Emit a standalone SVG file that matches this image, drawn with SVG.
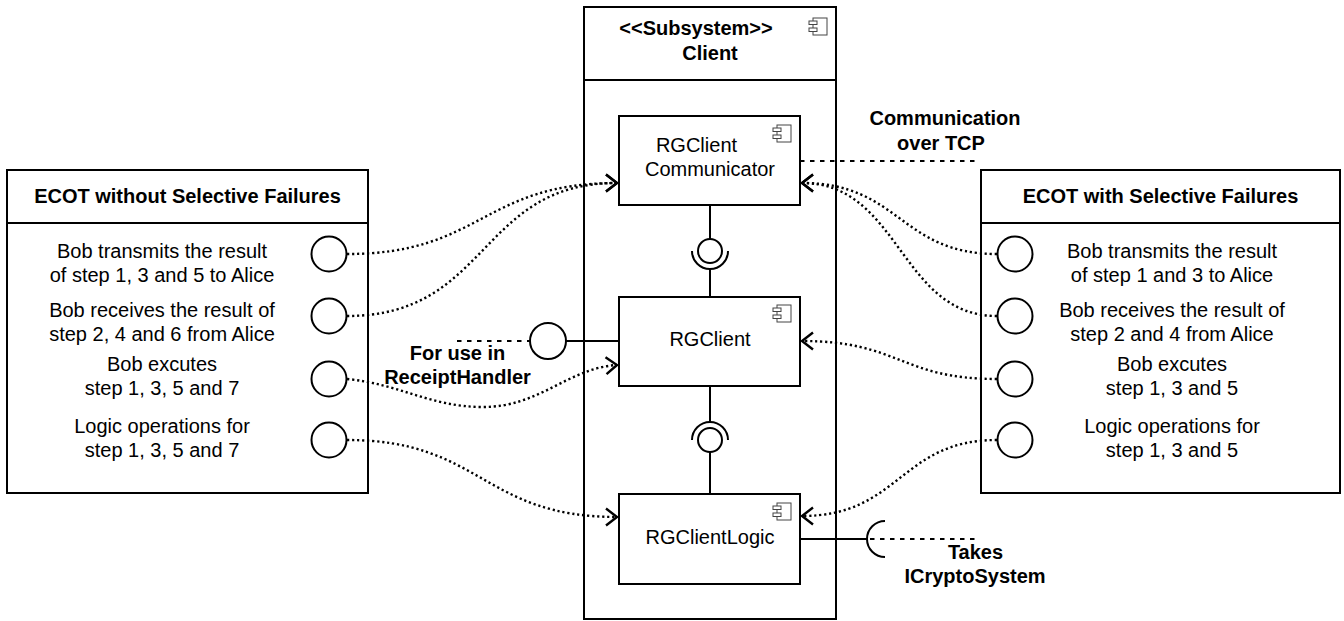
<svg xmlns="http://www.w3.org/2000/svg" xmlns:xlink="http://www.w3.org/1999/xlink" width="1344" height="621" viewBox="0 0 1344 621">
<style>
  .box { fill: #fff; stroke: #000; stroke-width: 2; }
  .ln { fill: none; stroke: #000; stroke-width: 2; }
  .dot { fill: none; stroke: #000; stroke-width: 2.4; stroke-dasharray: 2.2 2.8; }
  .dash { fill: none; stroke: #000; stroke-width: 2; stroke-dasharray: 4.5 5.5; }
  .ic { fill: #fff; stroke: #444; stroke-width: 1; }
  text { font-family: "Liberation Sans", Arial, sans-serif; font-size: 20px; fill: #000; text-anchor: middle; }
  .b { font-weight: bold; }
</style>
<defs>
  <marker id="arr" markerUnits="userSpaceOnUse" markerWidth="30" markerHeight="30" viewBox="-15 -15 30 30" refX="0" refY="0" orient="auto">
    <path d="M-11,-8.5 L0,0 L-11,8.5" fill="none" stroke="#000" stroke-width="2.4"/>
  </marker>
  <g id="icon">
    <rect class="ic" x="-14" y="0" width="14" height="17"/>
    <rect class="ic" x="-18" y="3" width="8" height="3.5"/>
    <rect class="ic" x="-18" y="10" width="8" height="3.5"/>
  </g>
</defs>
<rect width="1344" height="621" fill="#fff"/>

<g id="subsystem-client">
  <rect class="box" x="584" y="7" width="252" height="612"/>
  <line class="ln" x1="584" y1="80" x2="836" y2="80"/>
  <use xlink:href="#icon" x="827" y="18"/>
  <text class="b" x="696" y="35">&lt;&lt;Subsystem&gt;&gt;</text>
  <text class="b" x="710" y="60">Client</text>
</g>

<g id="ecot-without">
  <rect class="box" x="7" y="170" width="361" height="323"/>
  <line class="ln" x1="7" y1="223" x2="368" y2="223"/>
  <text class="b" x="187.5" y="203">ECOT without Selective Failures</text>
  <text x="162" y="258">Bob transmits the result</text>
  <text x="162" y="282">of step 1, 3 and 5 to Alice</text>
  <text x="162" y="317">Bob receives the result of</text>
  <text x="162" y="341">step 2, 4 and 6 from Alice</text>
  <text x="162" y="371">Bob excutes</text>
  <text x="162" y="395">step 1, 3, 5 and 7</text>
  <text x="162" y="433">Logic operations for</text>
  <text x="162" y="457">step 1, 3, 5 and 7</text>
  <circle class="box" cx="329" cy="254" r="17.5"/>
  <circle class="box" cx="329" cy="316" r="17.5"/>
  <circle class="box" cx="329" cy="379" r="17.5"/>
  <circle class="box" cx="329" cy="440" r="17.5"/>
</g>

<g id="ecot-with">
  <rect class="box" x="981" y="170" width="359" height="323"/>
  <line class="ln" x1="981" y1="223" x2="1340" y2="223"/>
  <text class="b" x="1160.5" y="203">ECOT with Selective Failures</text>
  <text x="1172" y="258">Bob transmits the result</text>
  <text x="1172" y="282">of step 1 and 3 to Alice</text>
  <text x="1172" y="317">Bob receives the result of</text>
  <text x="1172" y="341">step 2 and 4 from Alice</text>
  <text x="1172" y="371">Bob excutes</text>
  <text x="1172" y="395">step 1, 3 and 5</text>
  <text x="1172" y="433">Logic operations for</text>
  <text x="1172" y="457">step 1, 3 and 5</text>
  <circle class="box" cx="1015" cy="254" r="17.5"/>
  <circle class="box" cx="1015" cy="316" r="17.5"/>
  <circle class="box" cx="1015" cy="379" r="17.5"/>
  <circle class="box" cx="1015" cy="440" r="17.5"/>
</g>

<g id="connectors">
  <!-- assembly Communicator - RGClient -->
  <line class="ln" x1="710" y1="205" x2="710" y2="239"/>
  <path class="ln" d="M692,251 A18,18 0 0 0 728,251"/>
  <line class="ln" x1="710" y1="269" x2="710" y2="297"/>
  <!-- assembly RGClient - RGClientLogic -->
  <line class="ln" x1="710" y1="386" x2="710" y2="422"/>
  <path class="ln" d="M692,440 A18,18 0 0 1 728,440"/>
  <line class="ln" x1="710" y1="452" x2="710" y2="494"/>
  <!-- ReceiptHandler provided interface -->
  <line class="ln" x1="566" y1="341" x2="619" y2="341"/>
  <line class="dash" x1="457" y1="341" x2="530" y2="341"/>
  <!-- ICryptoSystem required interface -->
  <line class="ln" x1="800" y1="539" x2="867" y2="539"/>
  <path class="ln" d="M885,521 A18,18 0 0 0 885,557"/>
  <line class="dash" x1="870" y1="539" x2="977" y2="539"/>
  <!-- TCP -->
  <line class="dash" x1="800" y1="161" x2="975" y2="161"/>
  <!-- left dotted -->
  <path class="dot" d="M347,254 C482,254 482,183 617,183" marker-end="url(#arr)"/>
  <path class="dot" d="M347,316 C490,316 478,183 617,183" marker-end="url(#arr)"/>
  <path class="dot" d="M347,379 C400,384 430,407 483,407 C540,407 568,368 617,365" marker-end="url(#arr)"/>
  <path class="dot" d="M347,440 C482,440 482,517 617,517" marker-end="url(#arr)"/>
  <!-- right dotted -->
  <path class="dot" d="M997,254 C900,254 900,183 802,183" marker-end="url(#arr)"/>
  <path class="dot" d="M997,316 C900,316 900,183 802,183" marker-end="url(#arr)"/>
  <path class="dot" d="M997,379 C900,379 900,341 802,341" marker-end="url(#arr)"/>
  <path class="dot" d="M997,440 C900,440 900,516 802,516" marker-end="url(#arr)"/>
</g>

<g id="ball-receipt">
  <circle class="box" cx="548" cy="341" r="18"/>
  <text class="b" x="457.5" y="360">For use in</text>
  <text class="b" x="457.5" y="384">ReceiptHandler</text>
</g>
<g id="ball-comm">
  <circle class="box" cx="710" cy="251" r="12"/>
</g>
<g id="ball-client">
  <circle class="box" cx="710" cy="440" r="12"/>
</g>
<g id="label-tcp">
  <text class="b" x="945" y="125">Communication</text>
  <text class="b" x="941" y="150">over TCP</text>
</g>
<g id="label-crypto">
  <text class="b" x="975.5" y="559">Takes</text>
  <text class="b" x="975" y="583">ICryptoSystem</text>
</g>

<g id="rgclient-communicator">
  <rect class="box" x="619" y="116" width="181" height="89"/>
  <use xlink:href="#icon" x="791" y="125"/>
  <text x="696.5" y="152">RGClient</text>
  <text x="710" y="176">Communicator</text>
</g>
<g id="rgclient">
  <rect class="box" x="619" y="297" width="181" height="89"/>
  <use xlink:href="#icon" x="791" y="305"/>
  <text x="710" y="346">RGClient</text>
</g>
<g id="rgclientlogic">
  <rect class="box" x="619" y="494" width="181" height="90"/>
  <use xlink:href="#icon" x="791" y="503"/>
  <text x="710" y="544">RGClientLogic</text>
</g>
</svg>
